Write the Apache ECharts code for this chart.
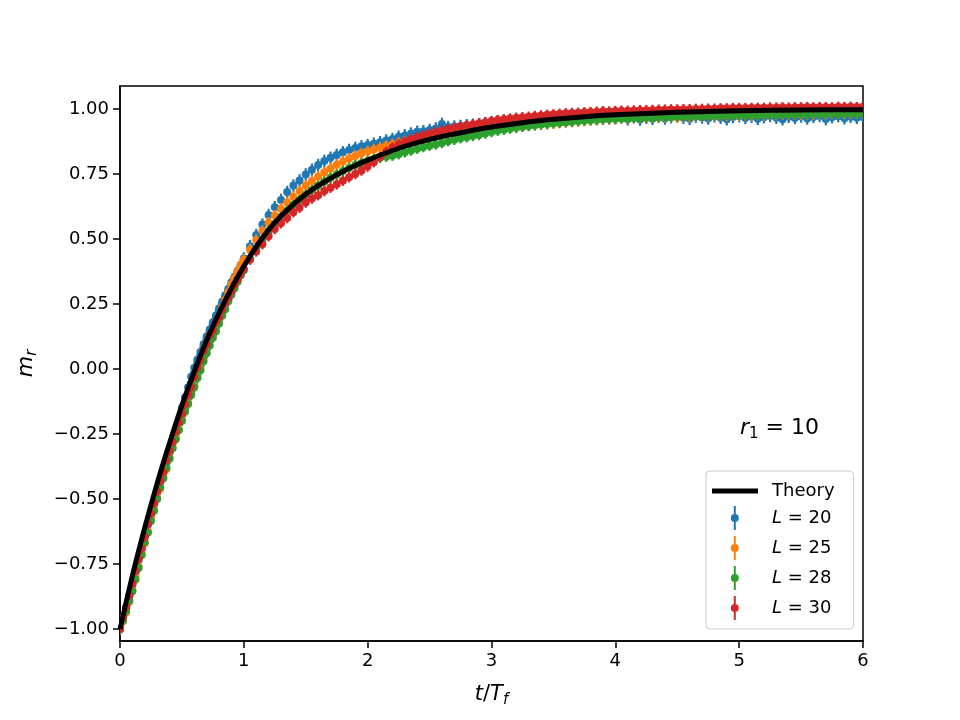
<!DOCTYPE html>
<html>
<head>
<meta charset="utf-8">
<script src="https://cdn.jsdelivr.net/npm/echarts@6/dist/echarts.min.js"></script>
<style>
  html, body { margin: 0; padding: 0; background: #fff; }
  #main { width: 960px; height: 720px; }
</style>
</head>
<body>
<div id="main"></div>
<script>
// sample times (t/T_f) shared by the four measured series
var tData = [0, 0.025, 0.05, 0.075, 0.1, 0.125, 0.15, 0.175, 0.2, 0.225, 0.25, 0.275, 0.3, 0.325, 0.35, 0.375, 0.4, 0.425, 0.45, 0.475,
  0.5, 0.525, 0.55, 0.575, 0.6, 0.625, 0.65, 0.675, 0.7, 0.725, 0.75, 0.775, 0.8, 0.825, 0.85, 0.875, 0.9, 0.925, 0.95, 0.975, 1.0,
  1.05, 1.1, 1.15, 1.2, 1.25, 1.3, 1.35, 1.4, 1.45, 1.5, 1.55, 1.6, 1.65, 1.7, 1.75, 1.8, 1.85, 1.9, 1.95, 2.0,
  2.05, 2.1, 2.15, 2.2, 2.25, 2.3, 2.35, 2.4, 2.45, 2.5, 2.55, 2.6, 2.65, 2.7, 2.75, 2.8, 2.85, 2.9, 2.95, 3.0,
  3.05, 3.1, 3.15, 3.2, 3.25, 3.3, 3.35, 3.4, 3.45, 3.5, 3.55, 3.6, 3.65, 3.7, 3.75, 3.8, 3.85, 3.9, 3.95, 4.0,
  4.05, 4.1, 4.15, 4.2, 4.25, 4.3, 4.35, 4.4, 4.45, 4.5, 4.55, 4.6, 4.65, 4.7, 4.75, 4.8, 4.85, 4.9, 4.95, 5.0,
  5.05, 5.1, 5.15, 5.2, 5.25, 5.3, 5.35, 5.4, 5.45, 5.5, 5.55, 5.6, 5.65, 5.7, 5.75, 5.8, 5.85, 5.9, 5.95, 6.0];

var mL20 = [-1.00, -0.96, -0.92, -0.875, -0.83, -0.785, -0.735, -0.69, -0.645, -0.60, -0.56, -0.52, -0.475, -0.435, -0.395, -0.36, -0.32, -0.28, -0.24, -0.195,
  -0.15, -0.11, -0.07, -0.03, 0.005, 0.035, 0.065, 0.095, 0.125, 0.152, 0.18, 0.206, 0.232, 0.258, 0.283, 0.308, 0.333, 0.355, 0.378, 0.4, 0.425,
  0.472, 0.515, 0.555, 0.592, 0.622, 0.65, 0.68, 0.705, 0.725, 0.748, 0.766, 0.784, 0.8, 0.812, 0.823, 0.833, 0.842, 0.85, 0.856, 0.861,
  0.866, 0.872, 0.878, 0.884, 0.893, 0.898, 0.905, 0.912, 0.914, 0.919, 0.925, 0.942, 0.93, 0.932, 0.934, 0.937, 0.939, 0.941, 0.944, 0.947,
  0.951, 0.952, 0.954, 0.955, 0.957, 0.958, 0.959, 0.96, 0.961, 0.962, 0.963, 0.964, 0.965, 0.964, 0.966, 0.962, 0.963, 0.966, 0.968, 0.965,
  0.972, 0.96, 0.97, 0.959, 0.966, 0.962, 0.97, 0.963, 0.968, 0.972, 0.966, 0.962, 0.97, 0.967, 0.963, 0.971, 0.966, 0.96, 0.969, 0.972,
  0.965, 0.97, 0.962, 0.968, 0.973, 0.966, 0.96, 0.97, 0.965, 0.971, 0.963, 0.969, 0.973, 0.961, 0.968, 0.972, 0.964, 0.97, 0.966, 0.969];

var mL25 = [-1.00, -0.97, -0.935, -0.895, -0.85, -0.80, -0.76, -0.71, -0.67, -0.625, -0.575, -0.54, -0.495, -0.46, -0.415, -0.385, -0.34, -0.30, -0.265, -0.235,
  -0.195, -0.16, -0.13, -0.095, -0.065, -0.03, 0.01, 0.045, 0.08, 0.115, 0.145, 0.175, 0.205, 0.235, 0.265, 0.295, 0.325, 0.35, 0.375, 0.40, 0.42,
  0.458, 0.495, 0.53, 0.562, 0.59, 0.616, 0.64, 0.662, 0.684, 0.705, 0.723, 0.74, 0.756, 0.771, 0.785, 0.798, 0.809, 0.819, 0.828, 0.836,
  0.844, 0.851, 0.857, 0.863, 0.869, 0.875, 0.881, 0.886, 0.891, 0.895, 0.899, 0.903, 0.907, 0.911, 0.914, 0.917, 0.92, 0.922, 0.925, 0.928,
  0.928, 0.929, 0.931, 0.933, 0.935, 0.937, 0.939, 0.941, 0.943, 0.945, 0.947, 0.949, 0.951, 0.953, 0.955, 0.957, 0.958, 0.96, 0.961, 0.962,
  0.966, 0.964, 0.965, 0.967, 0.966, 0.968, 0.967, 0.969, 0.97, 0.968, 0.972, 0.97, 0.973, 0.972, 0.974, 0.973, 0.975, 0.974, 0.976, 0.975,
  0.977, 0.976, 0.978, 0.977, 0.979, 0.978, 0.98, 0.979, 0.98, 0.978, 0.981, 0.98, 0.982, 0.981, 0.982, 0.983, 0.982, 0.983, 0.984, 0.983];

var mL28 = [-1.00, -0.965, -0.93, -0.89, -0.855, -0.81, -0.765, -0.715, -0.665, -0.63, -0.585, -0.545, -0.50, -0.455, -0.42, -0.38, -0.345, -0.305, -0.27, -0.235,
  -0.20, -0.165, -0.135, -0.10, -0.07, -0.035, -0.005, 0.03, 0.06, 0.09, 0.12, 0.145, 0.175, 0.205, 0.23, 0.26, 0.285, 0.31, 0.335, 0.36, 0.38,
  0.425, 0.463, 0.497, 0.53, 0.558, 0.584, 0.608, 0.63, 0.65, 0.67, 0.687, 0.704, 0.72, 0.735, 0.748, 0.761, 0.773, 0.784, 0.792, 0.8,
  0.806, 0.812, 0.816, 0.82, 0.826, 0.833, 0.84, 0.847, 0.853, 0.858, 0.863, 0.869, 0.876, 0.881, 0.887, 0.891, 0.896, 0.9, 0.905, 0.911,
  0.916, 0.92, 0.924, 0.927, 0.931, 0.934, 0.937, 0.94, 0.942, 0.945, 0.947, 0.949, 0.951, 0.953, 0.955, 0.957, 0.958, 0.96, 0.961, 0.962,
  0.963, 0.964, 0.965, 0.966, 0.967, 0.967, 0.968, 0.969, 0.969, 0.971, 0.971, 0.972, 0.973, 0.972, 0.974, 0.975, 0.974, 0.976, 0.975, 0.977,
  0.976, 0.978, 0.977, 0.978, 0.979, 0.978, 0.98, 0.979, 0.98, 0.981, 0.98, 0.982, 0.981, 0.982, 0.983, 0.982, 0.983, 0.984, 0.983, 0.984];

var mL30 = [-1.00, -0.955, -0.915, -0.87, -0.825, -0.775, -0.73, -0.69, -0.645, -0.595, -0.555, -0.515, -0.47, -0.43, -0.395, -0.35, -0.315, -0.28, -0.24, -0.205,
  -0.17, -0.135, -0.10, -0.07, -0.03, 0.005, 0.035, 0.07, 0.095, 0.13, 0.15, 0.18, 0.20, 0.23, 0.255, 0.275, 0.30, 0.325, 0.345, 0.365, 0.385,
  0.42, 0.452, 0.48, 0.51, 0.538, 0.56, 0.58, 0.603, 0.62, 0.64, 0.655, 0.668, 0.684, 0.697, 0.71, 0.724, 0.737, 0.75, 0.763, 0.778,
  0.795, 0.815, 0.835, 0.852, 0.864, 0.874, 0.883, 0.891, 0.898, 0.904, 0.911, 0.916, 0.922, 0.927, 0.932, 0.937, 0.941, 0.945, 0.949, 0.953,
  0.957, 0.96, 0.963, 0.966, 0.968, 0.97, 0.973, 0.975, 0.977, 0.979, 0.981, 0.983, 0.984, 0.985, 0.987, 0.988, 0.989, 0.991, 0.99, 0.992,
  0.993, 0.993, 0.994, 0.995, 0.995, 0.996, 0.997, 0.997, 0.998, 0.998, 0.999, 0.999, 1.0, 1.0, 1.001, 1.001, 1.002, 1.002, 1.003, 1.003,
  1.003, 1.004, 1.004, 1.004, 1.005, 1.005, 1.006, 1.005, 1.006, 1.006, 1.007, 1.006, 1.007, 1.007, 1.006, 1.008, 1.007, 1.008, 1.007, 1.008];

// error bar half-heights
var errL20 = 0.024, errL25 = 0.022, errL28 = 0.02, errL30 = 0.02;

// theory curve
var theoryT = [0, 0.1, 0.2, 0.3, 0.4, 0.5, 0.6, 0.7, 0.8, 0.9, 1.0, 1.1, 1.2, 1.3, 1.4, 1.5, 1.6, 1.7, 1.8, 1.9, 2.0,
  2.2, 2.4, 2.6, 2.8, 3.0, 3.25, 3.5, 3.75, 4.0, 4.5, 5.0, 5.5, 6.0];
var theoryM = [-1.0, -0.795, -0.61, -0.44, -0.285, -0.14, -0.01, 0.11, 0.215, 0.31, 0.395, 0.47, 0.535, 0.588, 0.633, 0.672, 0.705, 0.733, 0.759, 0.782, 0.803,
  0.84, 0.87, 0.894, 0.913, 0.93, 0.947, 0.96, 0.97, 0.977, 0.987, 0.993, 0.996, 0.997];

var yTicks = [-1, -0.75, -0.5, -0.25, 0, 0.25, 0.5, 0.75, 1];

var FONT = 'DejaVu Sans';
var barIcon = 'path://M21.8,0h2v24h-2z M22.8,8a4,4 0 1 1 0,8a4,4 0 1 1 0,-8z M0,12h0.01v0.01h-0.01z M54.99,12h0.01v0.01h-0.01z';
var lineIcon = 'path://M0,0h46v5h-46z M54.99,2.5h0.01v0.01h-0.01z';

function errSeries(name, vals, err, color) {
  return {
    name: name,
    type: 'custom',
    clip: true,
    itemStyle: { color: color },
    data: tData.map(function (t, i) { return [t, vals[i]]; }),
    renderItem: function (params, api) {
      var x = api.value(0), y = api.value(1);
      var c = api.coord([x, y]);
      var hi = api.coord([x, y + err]);
      var lo = api.coord([x, y - err]);
      return {
        type: 'group',
        children: [
          { type: 'line', shape: { x1: c[0], y1: hi[1], x2: c[0], y2: lo[1] }, style: { stroke: color, lineWidth: 2.2 } },
          { type: 'circle', shape: { cx: c[0], cy: c[1], r: 4 }, style: { fill: color } }
        ]
      };
    }
  };
}

var sub = { fontFamily: FONT, fontStyle: 'italic', fontSize: 15, padding: [12, 0, 0, 0], color: '#000' };

var chart = echarts.init(document.getElementById('main'));
chart.setOption({
  animation: false,
  backgroundColor: '#fff',
  textStyle: { fontFamily: FONT },
  grid: { left: 120, right: 97, top: 86, bottom: 79, show: true, borderColor: '#000', borderWidth: 1.5, backgroundColor: 'transparent' },
  xAxis: {
    type: 'value', min: 0, max: 6, interval: 1,
    name: '{i|t}{n|/}{i|T}{s|f}', nameLocation: 'middle', nameGap: 40,
    nameTextStyle: {
      rich: {
        i: { fontFamily: FONT, fontStyle: 'italic', fontSize: 21, color: '#000' },
        n: { fontFamily: FONT, fontSize: 21, color: '#000' },
        s: sub
      }
    },
    axisLine: { onZero: false, lineStyle: { color: '#000', width: 1.5 } },
    axisTick: { inside: false, length: 7, lineStyle: { color: '#000', width: 1.5 } },
    axisLabel: { color: '#000', fontSize: 18, fontFamily: FONT, margin: 11 },
    splitLine: { show: false }
  },
  yAxis: {
    type: 'value', min: -1.046, max: 1.088,
    name: '{i|m}{s|r}', nameLocation: 'middle', nameGap: 80, nameRotate: 90,
    nameTextStyle: {
      rich: {
        i: { fontFamily: FONT, fontStyle: 'italic', fontSize: 22, color: '#000' },
        s: sub
      }
    },
    axisLine: { show: true, onZero: false, lineStyle: { color: '#000', width: 1.5 } },
    axisTick: { show: true, length: 7, customValues: yTicks, lineStyle: { color: '#000', width: 1.5 } },
    axisLabel: {
      color: '#000', fontSize: 18, fontFamily: FONT, margin: 11, customValues: yTicks,
      formatter: function (v) { return (v < 0 ? '\u2212' : '') + Math.abs(v).toFixed(2); }
    },
    splitLine: { show: false }
  },
  legend: {
    orient: 'vertical', left: 706, top: 471,
    padding: [11, 19, 9, 6],
    itemWidth: 55, itemHeight: 24, itemGap: 6,
    backgroundColor: 'rgba(255,255,255,0.8)', borderColor: '#cccccc', borderWidth: 1, borderRadius: 4,
    selectedMode: false,
    textStyle: {
      color: '#000', fontSize: 18, fontFamily: FONT,
      rich: {
        i: { fontFamily: FONT, fontStyle: 'italic', fontSize: 18, color: '#000' },
        n: { fontFamily: FONT, fontSize: 18, color: '#000' }
      }
    },
    formatter: function (name) {
      return name.charAt(0) === 'L' ? '{i|L}{n|' + name.slice(1) + '}' : '{n|' + name + '}';
    },
    data: [
      { name: 'Theory', icon: lineIcon },
      { name: 'L = 20', icon: barIcon },
      { name: 'L = 25', icon: barIcon },
      { name: 'L = 28', icon: barIcon },
      { name: 'L = 30', icon: barIcon }
    ]
  },
  graphic: [{
    type: 'text', left: 740, top: 417,
    style: {
      text: '{i|r}{s|1}{n| = 10}',
      rich: {
        i: { fontFamily: FONT, fontStyle: 'italic', fontSize: 22, color: '#000' },
        s: { fontFamily: FONT, fontSize: 15, padding: [12, 0, 0, 0], color: '#000' },
        n: { fontFamily: FONT, fontSize: 22, color: '#000' }
      }
    }
  }],
  series: [
    errSeries('L = 20', mL20, errL20, '#1f77b4'),
    errSeries('L = 25', mL25, errL25, '#ff7f0e'),
    errSeries('L = 28', mL28, errL28, '#2ca02c'),
    errSeries('L = 30', mL30, errL30, '#d62728'),
    {
      name: 'Theory', type: 'line', smooth: 0.3, showSymbol: false, symbol: 'none', z: 5, clip: true,
      itemStyle: { color: '#000' },
      lineStyle: { color: '#000', width: 5 },
      data: theoryT.map(function (t, i) { return [t, theoryM[i]]; })
    }
  ]
});
</script>
</body>
</html>
